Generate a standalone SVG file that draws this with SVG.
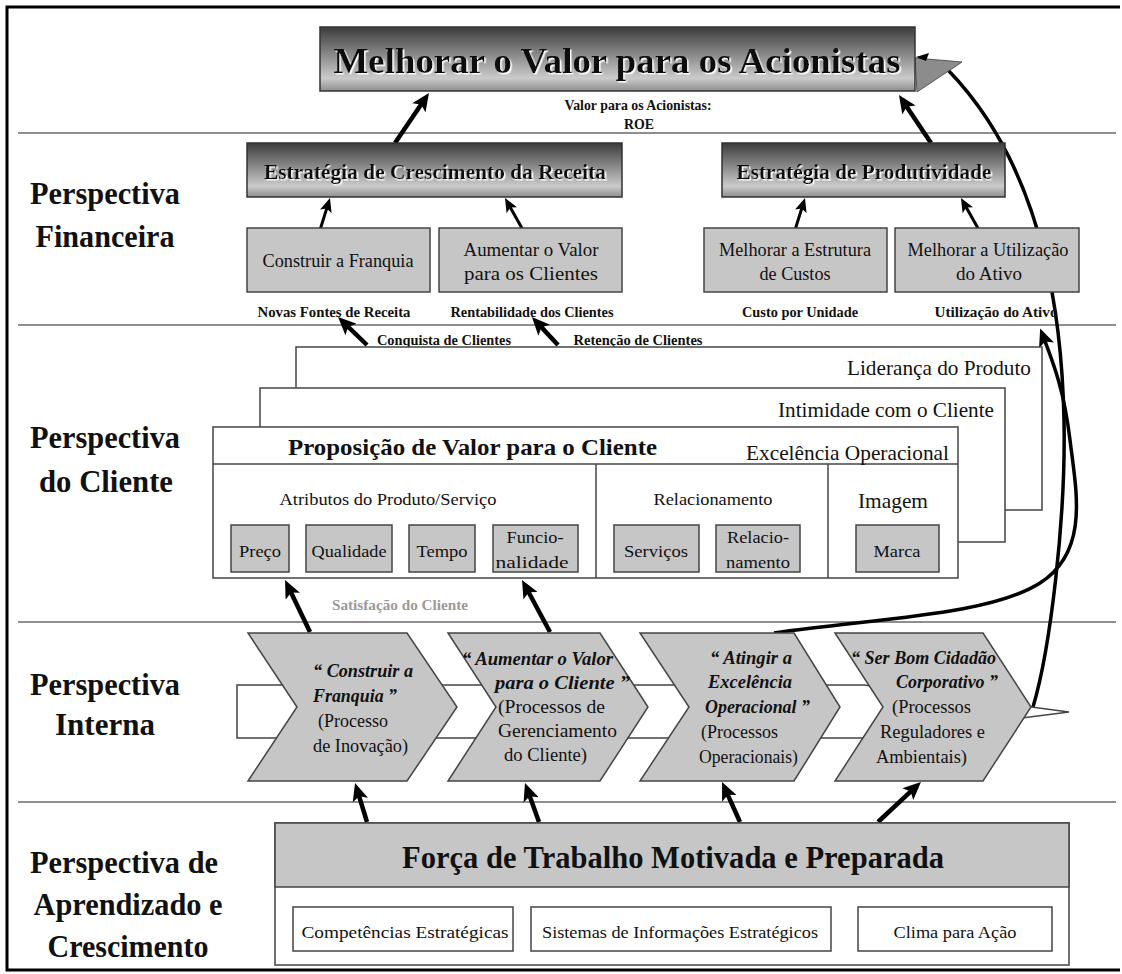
<svg xmlns="http://www.w3.org/2000/svg" width="1122" height="974" viewBox="0 0 1122 974" font-family="Liberation Serif, serif">
<style>
text{font-family:'Liberation Serif',serif;fill:#111}
.b{font-weight:bold}
.i{font-style:italic}
.c{text-anchor:middle}
.r{text-anchor:end}
.box{fill:#c6c6c6;stroke:#444;stroke-width:1.5}
.dark{fill:url(#g);stroke:#333;stroke-width:1.5}
.wb{fill:#fff;stroke:#444;stroke-width:1.5}
.sep{stroke:#6a6a6a;stroke-width:1.5}
.ar{stroke:#000;stroke-width:4.5;fill:none;marker-end:url(#ah)}
.ars{stroke:#000;stroke-width:3;fill:none;marker-end:url(#ahs)}
.cv{stroke:#000;stroke-width:3.5;fill:none}
.sh{filter:url(#sh)}
.gr{fill:#9a9a9a}
</style>
<defs>
<linearGradient id="g" x1="0" y1="0" x2="0" y2="1">
<stop offset="0" stop-color="#3c3c3c"/>
<stop offset="0.8" stop-color="#cbcbcb"/>
<stop offset="1" stop-color="#8e8e8e"/>
</linearGradient>
<filter id="sh" x="-5%" y="-20%" width="110%" height="150%">
<feDropShadow dx="1.5" dy="1.5" stdDeviation="0" flood-color="#ffffff"/>
</filter>
<marker id="ah" markerUnits="userSpaceOnUse" markerWidth="18" markerHeight="16" viewBox="0 0 18 16" refX="10" refY="8" orient="auto">
<path d="M0,0 L18,8 L0,16 L4,8 z" fill="#000"/>
</marker>
<marker id="ahs" markerUnits="userSpaceOnUse" markerWidth="14" markerHeight="12" viewBox="0 0 14 12" refX="8" refY="6" orient="auto">
<path d="M0,0 L14,6 L0,12 L3,6 z" fill="#000"/>
</marker>
</defs>
<rect x="0" y="0" width="1122" height="974" fill="#fff"/>
<g id="frame">
<path d="M1120,7 H7 V970 H1120" fill="none" stroke="#000" stroke-width="3"/>
<line class="sep" x1="18" y1="133" x2="1116" y2="133"/>
<line class="sep" x1="18" y1="325" x2="1116" y2="325"/>
<line class="sep" x1="18" y1="622" x2="1116" y2="622"/>
<line class="sep" x1="18" y1="802" x2="1116" y2="802"/>
</g>
<g id="perspective-labels">
<text class="b c" x="105" y="204" font-size="31" textLength="150" lengthAdjust="spacingAndGlyphs">Perspectiva</text>
<text class="b c" x="105" y="247" font-size="31" textLength="139" lengthAdjust="spacingAndGlyphs">Financeira</text>
<text class="b c" x="105" y="448" font-size="31" textLength="150" lengthAdjust="spacingAndGlyphs">Perspectiva</text>
<text class="b c" x="106" y="492" font-size="31" textLength="134" lengthAdjust="spacingAndGlyphs">do Cliente</text>
<text class="b c" x="105" y="695" font-size="31" textLength="150" lengthAdjust="spacingAndGlyphs">Perspectiva</text>
<text class="b c" x="105" y="735" font-size="31" textLength="100" lengthAdjust="spacingAndGlyphs">Interna</text>
<text class="b c" x="124" y="873" font-size="31" textLength="188" lengthAdjust="spacingAndGlyphs">Perspectiva de</text>
<text class="b c" x="128" y="915" font-size="31" textLength="189" lengthAdjust="spacingAndGlyphs">Aprendizado e</text>
<text class="b c" x="128" y="957" font-size="31" textLength="161" lengthAdjust="spacingAndGlyphs">Crescimento</text>
</g>
<g id="connectors">
<line class="ar" x1="395" y1="143" x2="424.5" y2="99.6"/>
<line class="ar" x1="931" y1="143" x2="903.4" y2="101.7"/>
<line class="ars" x1="320" y1="230" x2="328.2" y2="203.7"/>
<line class="ars" x1="523" y1="230" x2="507.9" y2="203.2"/>
<line class="ars" x1="795" y1="230" x2="803.2" y2="203.7"/>
<line class="ars" x1="979" y1="230" x2="963.9" y2="203.2"/>
<line class="ar" x1="367" y1="345" x2="343.8" y2="322.6"/>
<line class="ar" x1="558" y1="345" x2="537.4" y2="322.9"/>
<line class="ar" x1="310" y1="632" x2="288.5" y2="587.2"/>
<line class="ar" x1="550" y1="632" x2="525.8" y2="587"/>
<line class="ar" x1="367" y1="822" x2="357.4" y2="790.6"/>
<line class="ar" x1="539" y1="822" x2="527.7" y2="790.5"/>
<line class="ar" x1="740" y1="822" x2="725.3" y2="789.3"/>
<line class="ar" x1="878" y1="822" x2="915.1" y2="787.4"/>
<path class="cv" d="M774,633 C880,618 990,615 1040,583 S1076,490 1070,440 S1054,365 1043,336" marker-end="url(#ah)"/>
<path class="cv" d="M1033,707 C1050,650 1066,520 1064,420 C1062,320 1045,170 948,70"/>
<polygon points="915,58 962,62 917,92" fill="#8c8c8c" stroke="#555" stroke-width="1"/>
<polygon points="916,57 929,53 926,61" fill="#000"/>
</g>
<g id="top-goal">
<rect class="dark" x="320" y="27" width="595" height="64"/>
<text class="b c sh" x="617" y="73" font-size="36" textLength="567" lengthAdjust="spacingAndGlyphs">Melhorar o Valor para os Acionistas</text>
</g>
<g id="roe-label">
<text class="b c" x="638" y="110" font-size="15" textLength="147" lengthAdjust="spacingAndGlyphs">Valor para os Acionistas:</text>
<text class="b c" x="639" y="129" font-size="15" textLength="30" lengthAdjust="spacingAndGlyphs">ROE</text>
</g>
<g id="crescimento">
<rect class="dark" x="247" y="143" width="375" height="54"/>
<text class="b c sh" x="435" y="179" font-size="21" textLength="342" lengthAdjust="spacingAndGlyphs">Estratégia de Crescimento da Receita</text>
</g>
<g id="produtividade">
<rect class="dark" x="722" y="143" width="283" height="54"/>
<text class="b c sh" x="864" y="179" font-size="21" textLength="255" lengthAdjust="spacingAndGlyphs">Estratégia de Produtividade</text>
</g>
<g id="franquia">
<rect class="box" x="247" y="228" width="183" height="64"/>
<text class="c" x="338" y="267" font-size="18" textLength="151" lengthAdjust="spacingAndGlyphs">Construir a Franquia</text>
</g>
<g id="valor-clientes">
<rect class="box" x="439" y="228" width="183" height="64"/>
<text class="c" x="531" y="256" font-size="18" textLength="135" lengthAdjust="spacingAndGlyphs">Aumentar o Valor</text>
<text class="c" x="531" y="280" font-size="18" textLength="134" lengthAdjust="spacingAndGlyphs">para os Clientes</text>
</g>
<g id="estrutura-custos">
<rect class="box" x="704" y="228" width="183" height="64"/>
<text class="c" x="795" y="256" font-size="18" textLength="152" lengthAdjust="spacingAndGlyphs">Melhorar a Estrutura</text>
<text class="c" x="795" y="280" font-size="18" textLength="71" lengthAdjust="spacingAndGlyphs">de Custos</text>
</g>
<g id="utilizacao-ativo">
<rect class="box" x="895" y="228" width="184" height="64"/>
<text class="c" x="988" y="256" font-size="18" textLength="161" lengthAdjust="spacingAndGlyphs">Melhorar a Utilização</text>
<text class="c" x="989" y="280" font-size="18" textLength="66" lengthAdjust="spacingAndGlyphs">do Ativo</text>
</g>
<g id="fin-labels">
<text class="b c" x="334" y="317" font-size="15" textLength="153" lengthAdjust="spacingAndGlyphs">Novas Fontes de Receita</text>
<text class="b c" x="532" y="317" font-size="15" textLength="163" lengthAdjust="spacingAndGlyphs">Rentabilidade dos Clientes</text>
<text class="b c" x="800" y="317" font-size="15" textLength="116" lengthAdjust="spacingAndGlyphs">Custo por Unidade</text>
<text class="b c" x="996" y="317" font-size="15" textLength="123" lengthAdjust="spacingAndGlyphs">Utilização do Ativo</text>
<text class="b c" x="444" y="345" font-size="15" textLength="134" lengthAdjust="spacingAndGlyphs">Conquista de Clientes</text>
<text class="b c" x="638" y="345" font-size="15" textLength="129" lengthAdjust="spacingAndGlyphs">Retenção de Clientes</text>
</g>
<g id="lideranca">
<rect class="wb" x="296" y="347" width="746" height="163"/>
<text class="r" x="1031" y="375" font-size="21" textLength="184" lengthAdjust="spacingAndGlyphs">Liderança do Produto</text>
</g>
<g id="intimidade">
<rect class="wb" x="260" y="388" width="745" height="154"/>
<text class="r" x="994" y="417" font-size="21" textLength="216" lengthAdjust="spacingAndGlyphs">Intimidade com o Cliente</text>
</g>
<g id="proposicao">
<rect class="wb" x="213" y="427" width="745" height="151"/>
<line x1="213" y1="464" x2="958" y2="464" stroke="#444" stroke-width="1.5"/>
<line x1="596" y1="464" x2="596" y2="578" stroke="#444" stroke-width="1.5"/>
<line x1="828" y1="464" x2="828" y2="578" stroke="#444" stroke-width="1.5"/>
<text class="b" x="288" y="455" font-size="24" textLength="369" lengthAdjust="spacingAndGlyphs">Proposição de Valor  para o Cliente</text>
<text class="r" x="949" y="460" font-size="21" textLength="203" lengthAdjust="spacingAndGlyphs">Excelência Operacional</text>
<text class="c" x="388" y="505" font-size="17" textLength="217" lengthAdjust="spacingAndGlyphs">Atributos do Produto/Serviço</text>
<text class="c" x="713" y="505" font-size="17" textLength="119" lengthAdjust="spacingAndGlyphs">Relacionamento</text>
<text class="c" x="893" y="508" font-size="21" textLength="70" lengthAdjust="spacingAndGlyphs">Imagem</text>
</g>
<g id="preco">
<rect class="box" x="231" y="525" width="58" height="47"/>
<text class="c" x="260" y="557" font-size="17" textLength="42" lengthAdjust="spacingAndGlyphs">Preço</text>
</g>
<g id="qualidade">
<rect class="box" x="306" y="525" width="86" height="47"/>
<text class="c" x="349" y="557" font-size="17" textLength="75" lengthAdjust="spacingAndGlyphs">Qualidade</text>
</g>
<g id="tempo">
<rect class="box" x="409" y="525" width="66" height="47"/>
<text class="c" x="442" y="557" font-size="17" textLength="51" lengthAdjust="spacingAndGlyphs">Tempo</text>
</g>
<g id="funcionalidade">
<rect class="box" x="493" y="525" width="85" height="47"/>
<text class="c" x="535" y="543" font-size="17" textLength="57" lengthAdjust="spacingAndGlyphs">Funcio-</text>
<text class="c" x="532" y="568" font-size="17" textLength="73" lengthAdjust="spacingAndGlyphs">nalidade</text>
</g>
<g id="servicos">
<rect class="box" x="614" y="525" width="85" height="47"/>
<text class="c" x="656" y="557" font-size="17" textLength="64" lengthAdjust="spacingAndGlyphs">Serviços</text>
</g>
<g id="relacionamento">
<rect class="box" x="716" y="525" width="84" height="47"/>
<text class="c" x="758" y="543" font-size="17" textLength="62" lengthAdjust="spacingAndGlyphs">Relacio-</text>
<text class="c" x="758" y="568" font-size="17" textLength="64" lengthAdjust="spacingAndGlyphs">namento</text>
</g>
<g id="marca">
<rect class="box" x="856" y="525" width="83" height="47"/>
<text class="c" x="897" y="557" font-size="17" textLength="47" lengthAdjust="spacingAndGlyphs">Marca</text>
</g>
<g id="satisfacao-label">
<text class="b c gr" x="400" y="610" font-size="15" textLength="136" lengthAdjust="spacingAndGlyphs">Satisfação do Cliente</text>
</g>
<g id="process-band">
<polygon points="237,685 864,685 1069,712 864,738 237,738" fill="#fff" stroke="#444" stroke-width="1.5"/>
</g>
<g id="chevron-inovacao">
<polygon class="box" points="248,633 407,633 457,707 407,781 248,781 297,707"/>
<text class="b i" x="313" y="677" font-size="18" textLength="100" lengthAdjust="spacingAndGlyphs">“ Construir a</text>
<text class="b i" x="313" y="702" font-size="18" textLength="84" lengthAdjust="spacingAndGlyphs">Franquia ”</text>
<text x="318" y="727" font-size="18" textLength="70" lengthAdjust="spacingAndGlyphs">(Processo</text>
<text x="313" y="752" font-size="18" textLength="95" lengthAdjust="spacingAndGlyphs">de Inovação)</text>
</g>
<g id="chevron-cliente">
<polygon class="box" points="448,633 600,633 648,707 600,781 448,781 496,707"/>
<text class="b i" x="462" y="665" font-size="18" textLength="151" lengthAdjust="spacingAndGlyphs">“ Aumentar o Valor</text>
<text class="b i" x="495" y="689" font-size="18" textLength="135" lengthAdjust="spacingAndGlyphs">para o Cliente ”</text>
<text x="498" y="713" font-size="18" textLength="107" lengthAdjust="spacingAndGlyphs">(Processos de</text>
<text x="498" y="737" font-size="18" textLength="119" lengthAdjust="spacingAndGlyphs">Gerenciamento</text>
<text x="504" y="761" font-size="18" textLength="83" lengthAdjust="spacingAndGlyphs">do Cliente)</text>
</g>
<g id="chevron-operacional">
<polygon class="box" points="640,633 794,633 840,707 794,781 640,781 689,707"/>
<text class="b i" x="710" y="664" font-size="18" textLength="82" lengthAdjust="spacingAndGlyphs">“ Atingir a</text>
<text class="b i" x="708" y="688" font-size="18" textLength="84" lengthAdjust="spacingAndGlyphs">Excelência</text>
<text class="b i" x="705" y="713" font-size="18" textLength="105" lengthAdjust="spacingAndGlyphs">Operacional ”</text>
<text x="701" y="738" font-size="18" textLength="77" lengthAdjust="spacingAndGlyphs">(Processos</text>
<text x="699" y="763" font-size="18" textLength="99" lengthAdjust="spacingAndGlyphs">Operacionais)</text>
</g>
<g id="chevron-cidadao">
<polygon class="box" points="835,633 983,633 1031,707 983,781 835,781 883,707"/>
<text class="b i" x="851" y="664" font-size="18" textLength="145" lengthAdjust="spacingAndGlyphs">“ Ser Bom Cidadão</text>
<text class="b i" x="896" y="688" font-size="18" textLength="102" lengthAdjust="spacingAndGlyphs">Corporativo ”</text>
<text x="892" y="713" font-size="18" textLength="79" lengthAdjust="spacingAndGlyphs">(Processos</text>
<text x="880" y="738" font-size="18" textLength="105" lengthAdjust="spacingAndGlyphs">Reguladores e</text>
<text x="876" y="763" font-size="18" textLength="91" lengthAdjust="spacingAndGlyphs">Ambientais)</text>
</g>
<g id="forca-trabalho">
<rect x="275" y="823" width="794" height="142" fill="#fff" stroke="#444" stroke-width="1.5"/>
<rect class="box" x="275" y="823" width="794" height="64"/>
<text class="b c" x="673" y="868" font-size="32" textLength="542" lengthAdjust="spacingAndGlyphs">Força de Trabalho Motivada e Preparada</text>
</g>
<g id="competencias">
<rect class="wb" x="293" y="907" width="220" height="44"/>
<text class="c" x="405" y="938" font-size="17" textLength="207" lengthAdjust="spacingAndGlyphs">Competências Estratégicas</text>
</g>
<g id="sistemas">
<rect class="wb" x="531" y="907" width="300" height="44"/>
<text class="c" x="680" y="938" font-size="17" textLength="276" lengthAdjust="spacingAndGlyphs">Sistemas de Informações Estratégicos</text>
</g>
<g id="clima">
<rect class="wb" x="858" y="907" width="194" height="44"/>
<text class="c" x="955" y="938" font-size="17" textLength="123" lengthAdjust="spacingAndGlyphs">Clima para Ação</text>
</g>
</svg>
